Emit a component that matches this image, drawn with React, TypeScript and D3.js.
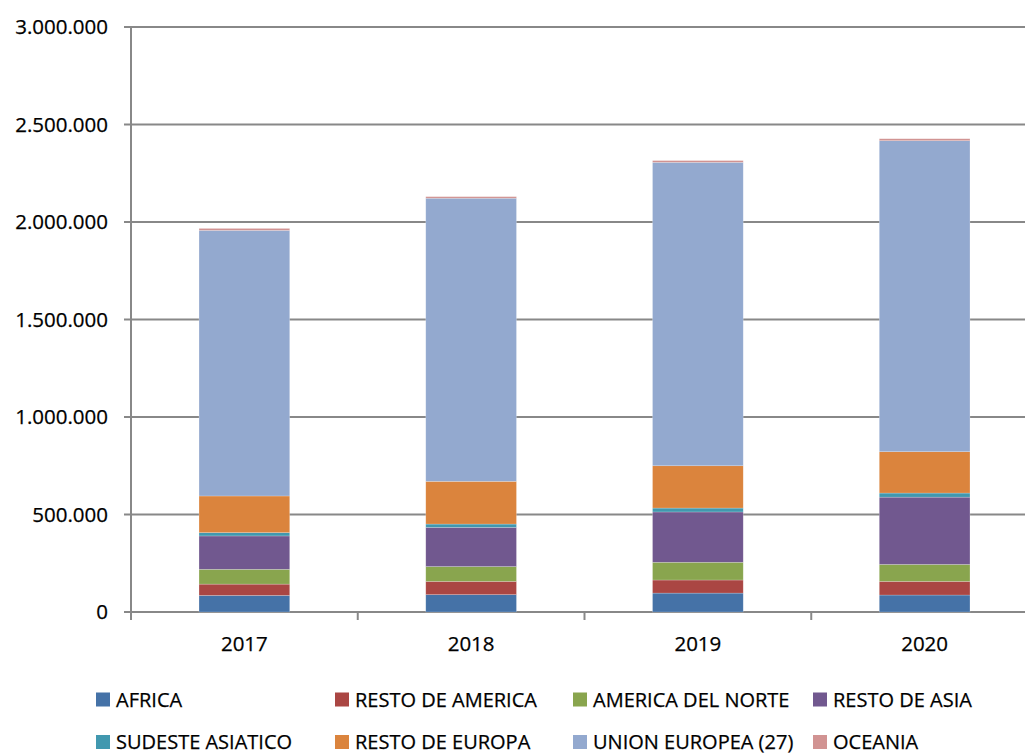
import { useEffect, useRef } from "react";
import * as d3 from "d3";

const years = ["2017", "2018", "2019", "2020"];

const seriesNames = [
  "AFRICA",
  "RESTO DE AMERICA",
  "AMERICA DEL NORTE",
  "RESTO DE ASIA",
  "SUDESTE ASIATICO",
  "RESTO DE EUROPA",
  "UNION EUROPEA (27)",
  "OCEANIA",
];

const africa = [85000, 89000, 97000, 87000];
const restoAmerica = [58000, 68000, 67000, 70000];
const americaNorte = [76000, 76000, 91000, 87000];
const restoAsia = [171000, 201000, 258000, 345000];
const sudesteAsiatico = [17000, 17000, 20000, 21000];
const restoEuropa = [188000, 219000, 217000, 212000];
const unionEuropea = [1362000, 1452000, 1556000, 1595000];
const oceania = [10000, 8000, 9000, 10000];

const seriesValues = [
  africa,
  restoAmerica,
  americaNorte,
  restoAsia,
  sudesteAsiatico,
  restoEuropa,
  unionEuropea,
  oceania,
];

const colors = [
  "#4572A7",
  "#AA4643",
  "#89A54E",
  "#71588F",
  "#4198AF",
  "#DB843D",
  "#93A9CF",
  "#D19392",
];

const yTicks = [0, 500000, 1000000, 1500000, 2000000, 2500000, 3000000];

const fmt = (v: number) =>
  v === 0 ? "0" : d3.format(",")(v).replace(/,/g, ".");

export default function App() {
  const ref = useRef<SVGSVGElement>(null);

  useEffect(() => {
    const svg = d3.select(ref.current);
    svg.selectAll("*").remove();

    const font = "'Open Sans', sans-serif";
    const left = 131;
    const right = 1038;
    const top = 27;
    const bottom = 612;

    const rows = years.map((y, i) => {
      const r: any = { year: y };
      seriesNames.forEach((s, k) => (r[s] = seriesValues[k][i]));
      return r;
    });

    const x = d3.scaleBand().domain(years).range([left, right]);
    const y = d3.scaleLinear().domain([0, 3000000]).range([bottom, top]);

    // gridlines
    svg
      .append("g")
      .selectAll("line")
      .data(yTicks)
      .enter()
      .append("line")
      .attr("x1", left - 7)
      .attr("x2", right)
      .attr("y1", (d) => y(d))
      .attr("y2", (d) => y(d))
      .attr("stroke", "#888")
      .attr("stroke-width", 2);

    const stacked = d3.stack().keys(seriesNames)(rows);
    const bw = x.bandwidth() * 0.4;

    svg
      .append("g")
      .selectAll("g")
      .data(stacked)
      .enter()
      .append("g")
      .attr("fill", (_d, i) => colors[i])
      .selectAll("rect")
      .data((d) => d)
      .enter()
      .append("rect")
      .attr("x", (d: any) => x(d.data.year)! + x.bandwidth() * 0.3)
      .attr("width", bw)
      .attr("y", (d) => y(d[1]))
      .attr("height", (d) => y(d[0]) - y(d[1]))
      .attr("stroke", "rgba(255,255,255,0.35)")
      .attr("stroke-width", 0.6);

    // y axis line
    svg
      .append("line")
      .attr("x1", left)
      .attr("x2", left)
      .attr("y1", top)
      .attr("y2", bottom + 8)
      .attr("stroke", "#888")
      .attr("stroke-width", 2);

    // x ticks
    svg
      .append("g")
      .selectAll("line")
      .data(years.slice(1))
      .enter()
      .append("line")
      .attr("x1", (d) => x(d)!)
      .attr("x2", (d) => x(d)!)
      .attr("y1", bottom)
      .attr("y2", bottom + 8)
      .attr("stroke", "#888")
      .attr("stroke-width", 2);

    const textStyle = (sel: any, size: number) =>
      sel
        .attr("font-family", font)
        .attr("font-size", size)
        .attr("fill", "#000")
        .attr("stroke", "#000")
        .attr("stroke-width", 0.25);

    svg
      .append("g")
      .selectAll("text")
      .data(yTicks)
      .enter()
      .append("text")
      .attr("x", 108)
      .attr("y", (d) => y(d))
      .attr("dy", "0.36em")
      .attr("text-anchor", "end")
      .call(textStyle, 20.5)
      .text((d) => fmt(d));

    svg
      .append("g")
      .selectAll("text")
      .data(years)
      .enter()
      .append("text")
      .attr("x", (d) => x(d)! + x.bandwidth() / 2)
      .attr("y", 643.5)
      .attr("dy", "0.36em")
      .attr("text-anchor", "middle")
      .call(textStyle, 20.5)
      .text((d) => d);

    // legend
    const colX = [96, 335, 573, 813];
    const rowY = [699.5, 742];
    seriesNames.forEach((name, i) => {
      const g = svg
        .append("g")
        .attr(
          "transform",
          `translate(${colX[i % 4]},${rowY[Math.floor(i / 4)]})`
        );
      g.append("rect")
        .attr("x", 0)
        .attr("y", -7)
        .attr("width", 14)
        .attr("height", 14)
        .attr("fill", colors[i]);
      g.append("text")
        .attr("x", 20)
        .attr("y", 0)
        .attr("dy", "0.36em")
        .call(textStyle, 20)
        .text(name);
    });
  }, []);

  return (
    <svg
      ref={ref}
      width={1025}
      height={754}
      style={{ position: "absolute", left: 0, top: 0, background: "#fff" }}
    />
  );
}
